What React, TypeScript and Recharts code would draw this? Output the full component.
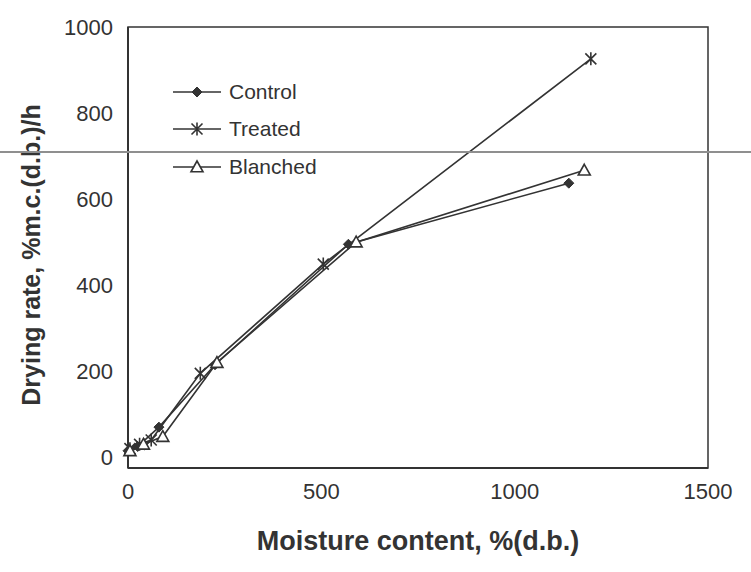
import React from "react";
import { LineChart, Line, XAxis, YAxis, Legend, ReferenceArea, Label } from "recharts";

// moisture content (% d.b.) vs drying rate (%m.c.(d.b.)/h)
const controlMoisture = [0, 25, 80, 225, 570, 1140];
const controlRate = [15, 25, 70, 215, 495, 637];
const treatedMoisture = [5, 30, 60, 187, 505, 1197];
const treatedRate = [20, 30, 40, 195, 449, 926];
const blanchedMoisture = [5, 40, 90, 230, 590, 1180];
const blanchedRate = [15, 30, 48, 220, 500, 667];

const xTicks = [0, 500, 1000, 1500];
const yTicks = [0, 200, 400, 600, 800, 1000];

const INK = "#333";
const FONT = '"Liberation Sans", Arial, sans-serif';

const toPoints = (xs: number[], ys: number[]) => xs.map((x, i) => ({ x, y: ys[i] }));

type MarkProps = { cx: number; cy: number };

function Diamond({ cx, cy }: MarkProps) {
  const r = 5;
  return (
    <path
      d={`M${cx},${cy - r}L${cx + r},${cy}L${cx},${cy + r}L${cx - r},${cy}Z`}
      fill={INK}
      stroke={INK}
      strokeWidth={1}
    />
  );
}

function Star({ cx, cy }: MarkProps) {
  const r = 5.5;
  return (
    <path
      d={`M${cx - r},${cy - r}L${cx + r},${cy + r}M${cx - r},${cy + r}L${cx + r},${cy - r}M${cx},${cy - r - 1}L${cx},${cy + r + 1}`}
      fill="none"
      stroke={INK}
      strokeWidth={1.6}
    />
  );
}

function Triangle({ cx, cy }: MarkProps) {
  const r = 6;
  return (
    <path
      d={`M${cx},${cy - r}L${cx + r},${cy + r * 0.8}L${cx - r},${cy + r * 0.8}Z`}
      fill="#fff"
      stroke={INK}
      strokeWidth={1.6}
    />
  );
}

const series = [
  { name: "Control", data: toPoints(controlMoisture, controlRate), Mark: Diamond },
  { name: "Treated", data: toPoints(treatedMoisture, treatedRate), Mark: Star },
  { name: "Blanched", data: toPoints(blanchedMoisture, blanchedRate), Mark: Triangle },
];

// keep the legend in series order rather than the payload's sorted order
function LegendBox({ payload }: any) {
  const names = new Set((payload || []).map((e: any) => e.value));
  return (
    <div style={{ fontFamily: FONT, fontSize: 21, color: INK }}>
      {series
        .filter((s) => names.has(s.name))
        .map((s) => {
          const Mark = s.Mark;
          return (
            <div
              key={s.name}
              style={{ display: "flex", alignItems: "center", height: 37.5 }}
            >
              <svg width={50} height={20} style={{ marginRight: 6 }}>
                <line x1={0} y1={10} x2={48} y2={10} stroke={INK} strokeWidth={1.6} />
                <Mark cx={24} cy={10} />
              </svg>
              <span>{s.name}</span>
            </div>
          );
        })}
    </div>
  );
}

export default function App() {
  return (
    <div
      style={{
        position: "absolute",
        left: 0,
        top: 0,
        width: 751,
        height: 572,
        background: "#fff",
      }}
    >
      <LineChart
        width={751}
        height={572}
        margin={{ top: 27, right: 43, bottom: 14, left: 0 }}
      >
        <XAxis
          type="number"
          dataKey="x"
          domain={[0, 1500]}
          ticks={xTicks}
          height={90}
          tickLine={false}
          tickSize={0}
          tickMargin={15}
          axisLine={{ stroke: INK, strokeWidth: 2 }}
          tick={{ fill: INK, fontSize: 22, fontFamily: FONT }}
          allowDuplicatedCategory={false}
        >
          <Label
            value="Moisture content, %(d.b.)"
            position="insideBottom"
            offset={8}
            style={{ fill: INK, fontSize: 27, fontWeight: 700, fontFamily: FONT }}
          />
        </XAxis>
        <YAxis
          type="number"
          dataKey="y"
          domain={[-25, 1000]}
          ticks={yTicks}
          width={128}
          tickLine={false}
          tickSize={0}
          tickMargin={15}
          axisLine={{ stroke: INK, strokeWidth: 2 }}
          tick={{ fill: INK, fontSize: 22, fontFamily: FONT }}
        >
          <Label
            content={() => (
              <text
                x={31}
                y={255}
                transform="rotate(-90 31 255)"
                textAnchor="middle"
                dominantBaseline="central"
                fill={INK}
                fontSize={25}
                fontWeight={700}
                fontFamily={FONT}
              >
                Drying rate, %m.c.(d.b.)/h
              </text>
            )}
          />
        </YAxis>
        <ReferenceArea
          x1={0}
          x2={1500}
          y1={-25}
          y2={1000}
          fill="none"
          stroke={INK}
          strokeWidth={1.5}
          ifOverflow="visible"
        />
        {series.map((s) => (
          <Line
            key={s.name}
            name={s.name}
            data={s.data}
            dataKey="y"
            type="linear"
            stroke={INK}
            strokeWidth={1.6}
            isAnimationActive={false}
            dot={(p: any) => <s.Mark key={`${s.name}-${p.index}`} cx={p.cx} cy={p.cy} />}
            activeDot={false}
          />
        ))}
        <Legend
          layout="vertical"
          align="center"
          verticalAlign="middle"
          wrapperStyle={{ left: 173, top: 73, width: 200 }}
          content={<LegendBox />}
        />
      </LineChart>
      {/* faint rule running across the sheet */}
      <div
        style={{
          position: "absolute",
          left: 0,
          top: 151,
          width: 751,
          height: 2,
          background: "#8f8f8f",
          pointerEvents: "none",
        }}
      />
    </div>
  );
}
